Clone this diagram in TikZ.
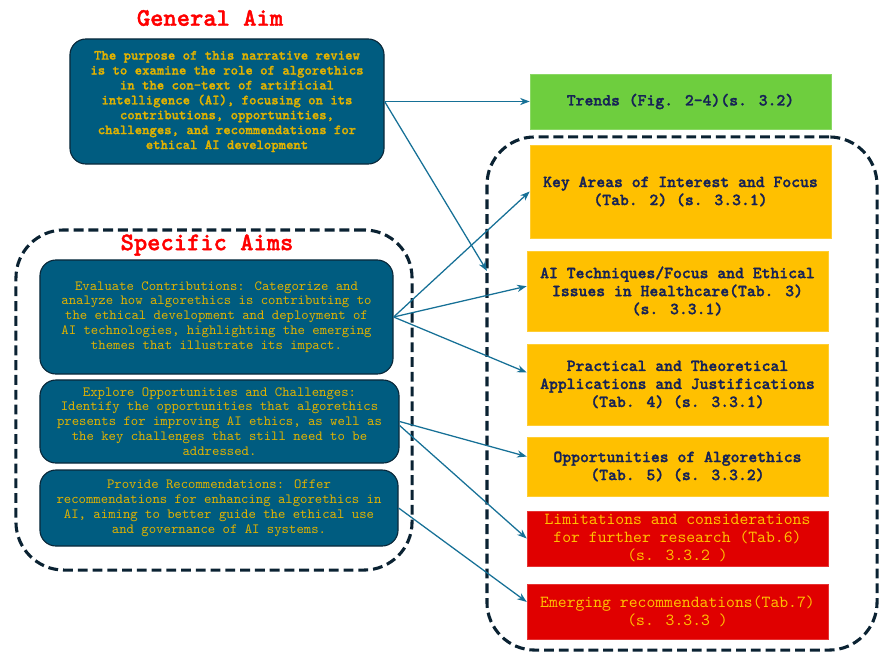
\documentclass[tikz,border=0pt]{standalone}
\usepackage{fontspec}
\setmainfont{lmmono10-regular.otf}[BoldFont=lmmonolt10-bold.otf, BoldFeatures={FakeBold=1.5}]
\usetikzlibrary{arrows.meta}

\definecolor{aimfill}{RGB}{0,92,128}
\definecolor{aimline}{RGB}{10,40,58}
\definecolor{aimtext}{RGB}{225,178,0}
\definecolor{trendfill}{RGB}{110,206,62}
\definecolor{secfill}{RGB}{255,192,0}
\definecolor{limfill}{RGB}{224,0,0}
\definecolor{navytext}{RGB}{22,34,86}
\definecolor{arrowcol}{RGB}{22,112,150}
\definecolor{dashcol}{RGB}{10,34,50}

\begin{document}
\begin{tikzpicture}[x=0.025cm, y=-0.025cm,
        title/.style={text=red, font=\fontsize{18}{20}\selectfont\bfseries},
        aim/.style={draw=aimline, line width=0.8pt, fill=aimfill, rounded corners=0.4cm,
                    text=aimtext, align=center, inner sep=0pt,
                    font=\fontsize{10}{10.6}\selectfont},
        sec/.style={fill=secfill, draw=secfill!80!white, minimum width=7.525cm,
                    text=navytext, align=center, inner sep=0pt,
                    font=\fontsize{12}{12.8}\selectfont\bfseries},
        lim/.style={sec, fill=limfill, draw=limfill!80!white, text=secfill,
                    font=\fontsize{12}{12.8}\selectfont},
        group/.style={draw=dashcol, line width=2.2pt, dash pattern=on 7pt off 3.5pt,
                      rounded corners=1.2cm},
        arr/.style={-{Stealth[length=2.4mm, width=1.8mm]}, draw=arrowcol, line width=0.9pt},
    ]
        \useasboundingbox (0,0) rectangle (880,652);

        % Containers
        \node[group, minimum width=9.9cm, minimum height=8.5cm] (specgrp) at (214,400) {};
        \node[group, minimum width=9.75cm, minimum height=12.825cm] (resgrp) at (682,393.5) {};

        % General Aim
        \node[title] (gentitle) at (210,18) {General Aim};
        \node[aim, font=\fontsize{10}{10.6}\selectfont\bfseries,
              minimum width=7.85cm, minimum height=3.125cm] (gen) at (227,101.5)
            {The purpose of this narrative review\\is to examine the role of algorethics\\in the con-text of artificial\\intelligence (AI), focusing on its\\contributions, opportunities,\\challenges, and recommendations for\\ethical AI development};

        % Specific Aims
        \node[title] (spectitle) at (207,245) {Specific Aims};
        \node[aim, minimum width=8.825cm, minimum height=2.85cm] (eval) at (216.5,317)
            {Evaluate Contributions: Categorize and\\analyze how algorethics is contributing to\\the ethical development and deployment of\\AI technologies, highlighting the emerging\\themes that illustrate its impact.};
        \node[aim, minimum width=8.975cm, minimum height=2.075cm] (explore) at (219.5,421.5)
            {Explore Opportunities and Challenges:\\Identify the opportunities that algorethics\\presents for improving AI ethics, as well as\\the key challenges that still need to be\\addressed.};
        \node[aim, minimum width=8.95cm, minimum height=1.9cm] (provide) at (219,508)
            {Provide Recommendations: Offer\\recommendations for enhancing algorethics in\\AI, aiming to better guide the ethical use\\and governance of AI systems.};

        % Results
        \node[sec, fill=trendfill, draw=trendfill!80!white, minimum height=1.375cm] (trends) at (680.5,101.5)
            {Trends (Fig. 2-4)(s. 3.2)};
        \node[sec, minimum height=2.325cm] (keyareas) at (680.5,191.5)
            {Key Areas of Interest and Focus\\(Tab. 2) (s. 3.3.1)};
        \node[sec, minimum height=2cm] (aitech) at (677.5,291)
            {AI Techniques/Focus and Ethical\\Issues in Healthcare(Tab. 3)\\(s. 3.3.1)};
        \node[sec, minimum height=2.025cm] (practical) at (677.5,384.5)
            {Practical and Theoretical\\Applications and Justifications\\(Tab. 4) (s. 3.3.1)};
        \node[sec, minimum height=1.475cm] (opport) at (677.5,466.5)
            {Opportunities of Algorethics\\(Tab. 5) (s. 3.3.2)};
        \node[lim, minimum height=1.375cm] (limits) at (677.5,538.5)
            {Limitations and considerations\\for further research (Tab.6)\\(s. 3.3.2 )};
        \node[lim, minimum height=1.375cm] (emerging) at (677.5,611.5)
            {Emerging recommendations(Tab.7)\\(s. 3.3.3 )};

        \coordinate (genhit) at (487,271);

        % Arrows
        \draw[arr] (gen.east) -- (trends.west);
        \draw[arr] (gen.east) -- (genhit);
        \draw[arr] (eval.east) -- (keyareas.west);
        \draw[arr] (eval.east) -- ([yshift=0.12cm]aitech.west);
        \draw[arr] (eval.east) -- ([yshift=0.3cm]practical.west);
        \draw[arr] (explore.east) -- ([yshift=0.25cm]opport.west);
        \draw[arr] ([yshift=-0.1cm]explore.east) -- (limits.west);
        \draw[arr] (provide.east) -- ([yshift=0.24cm]emerging.west);
    \end{tikzpicture}
\end{document}
